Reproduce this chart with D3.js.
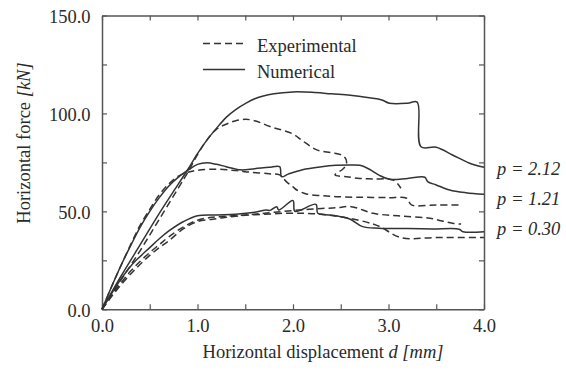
<!DOCTYPE html>
<html>
<head>
<meta charset="utf-8">
<script src="https://cdn.jsdelivr.net/npm/d3@7"></script>
<style>
  body { margin: 0; background: #fff; }
  svg { display: block; font-family: "Liberation Serif", "Times New Roman", serif; }
</style>
</head>
<body>
<svg id="chart" width="566" height="370"></svg>
<script>
// Load–displacement curves for three load ratios p (displacement d in mm, force in kN)
const num212_d = [0, 0.2, 0.4, 0.6, 0.8, 0.9, 1.0, 1.1, 1.2, 1.3, 1.4, 1.5, 1.6, 1.8, 2.0, 2.2, 2.4, 2.6, 2.8, 2.93, 3.01, 3.2, 3.3, 3.34, 3.5, 3.67, 3.85, 4.0];
const num212_f = [0, 17, 33, 49, 64, 71.5, 79.5, 86.5, 92.5, 98, 102, 105, 107.5, 110, 111, 110.8, 110, 109.3, 108, 106.9, 105.2, 105.2, 105.8, 83, 82.7, 78.8, 74.6, 72.5];

const exp212_d = [0, 0.2, 0.4, 0.6, 0.8, 0.9, 1.0, 1.1, 1.2, 1.3, 1.4, 1.5, 1.6, 1.76, 2.0, 2.1, 2.25, 2.4, 2.5, 2.55, 2.56, 2.52, 2.44, 2.56, 2.7, 2.84, 3.05, 3.13];
const exp212_f = [0, 15, 30, 46, 62, 70, 79, 86.5, 92, 94.5, 96.3, 97, 96.3, 93.3, 89.5, 86, 81.4, 80, 79, 77, 74, 71.5, 68.6, 67.7, 66.8, 66.5, 66, 61.8];

const num121_d = [0, 0.1, 0.2, 0.3, 0.4, 0.5, 0.6, 0.7, 0.8, 0.9, 1.0, 1.1, 1.2, 1.3, 1.45, 1.6, 1.75, 1.86, 1.88, 1.95, 2.1, 2.3, 2.45, 2.6, 2.7, 2.8, 2.9, 3.01, 3.2, 3.38, 3.41, 3.5, 3.64, 3.81, 4.0];
const num121_f = [0, 11.5, 22.5, 32.5, 42, 50, 57, 63, 67.5, 71, 74, 74.8, 74, 72.8, 71.2, 71.8, 72.5, 72.8, 67.7, 69, 71.3, 72.8, 73.5, 73.7, 73.5, 71.5, 68.5, 66.4, 66.8, 67.4, 65.2, 63.5, 60.9, 59.5, 58.7];

const exp121_d = [0, 0.1, 0.2, 0.3, 0.4, 0.5, 0.6, 0.7, 0.8, 0.9, 1.0, 1.2, 1.4, 1.55, 1.75, 1.86, 1.93, 2.0, 2.04, 2.14, 2.3, 2.45, 2.7, 3.0, 3.19, 3.24, 3.5, 3.75];
const exp121_f = [0, 11.5, 22.5, 33, 43, 51, 58.5, 64, 68, 70, 71, 71.5, 70.8, 70, 69.2, 68.6, 65.2, 62.5, 60.9, 58.9, 58, 57.5, 57.2, 57, 56.7, 53.3, 53.3, 53.3];

const num030_d = [0, 0.1, 0.2, 0.3, 0.4, 0.5, 0.6, 0.7, 0.85, 1.0, 1.2, 1.4, 1.6, 1.72, 1.76, 1.83, 1.85, 2.0, 2.02, 2.24, 2.26, 2.38, 2.5, 2.6, 2.73, 2.9, 3.2, 3.46, 3.74, 3.78, 4.0];
const num030_f = [0, 8, 15.5, 22, 27, 31.5, 36, 40, 44.7, 47.8, 48.2, 48.5, 49.5, 50.7, 50.5, 52.4, 50.7, 55.5, 50, 53.6, 49, 48.2, 47.3, 46, 42.2, 41.4, 41.2, 41, 40.9, 39.6, 39.6];

const exp030a_d = [0, 0.1, 0.2, 0.3, 0.4, 0.5, 0.6, 0.7, 0.85, 1.0, 1.16, 1.3, 1.5, 1.7, 1.9, 2.1, 2.3, 2.45, 2.61, 2.84, 3.1, 3.43, 3.67, 3.76];
const exp030a_f = [0, 7, 13.5, 19.5, 24.5, 29, 33, 37, 42, 45.5, 47, 47.5, 48.2, 49, 50, 50.8, 51.5, 51.8, 52.4, 49, 47.7, 46.5, 43.9, 43.5];

const exp030b_d = [0, 0.1, 0.2, 0.3, 0.4, 0.5, 0.6, 0.7, 0.85, 1.0, 1.16, 1.3, 1.5, 1.7, 1.9, 2.1, 2.3, 2.49, 2.77, 2.91, 3.13, 3.5, 4.0];
const exp030b_f = [0, 6.5, 12.5, 18, 23, 27.5, 31.5, 35, 41, 44.8, 46, 47, 48, 48.5, 49, 49, 48.5, 47.3, 44.5, 42.2, 36.6, 36.6, 36.6];

const xTicks = [0, 0.5, 1, 1.5, 2, 2.5, 3, 3.5, 4];
const yTicks = [0, 25, 50, 75, 100, 125, 150];
const curveLabels = ["p = 2.12", "p = 1.21", "p = 0.30"];
const legendNames = ["Experimental", "Numerical"];

const svg = d3.select("#chart");
const ink = "#333";
const plotLeft = 102, plotRight = 484, plotTop = 15.5, plotBottom = 309.3;

const x = d3.scaleLinear().domain([0, 4]).range([plotLeft, plotRight]);
const y = d3.scaleLinear().domain([0, 150]).range([plotBottom, plotTop]);

const fmt = d3.format(".1f");
const isMajorX = v => Math.abs(v - Math.round(v)) < 1e-9;
const isMajorY = v => v % 50 === 0;

function styleAxis(g) {
  g.selectAll("path.domain").attr("stroke", "#555").attr("stroke-width", 1.5);
  g.selectAll(".tick line").attr("stroke", "#555").attr("stroke-width", 1.2);
  g.selectAll("text").attr("fill", "#2a2a2a").style("font-size", "18.5px")
    .style("font-family", "'Liberation Serif', 'Times New Roman', serif");
}

svg.append("g").attr("transform", `translate(0,${plotBottom})`)
  .call(d3.axisBottom(x).tickValues(xTicks).tickSizeInner(-5).tickSizeOuter(0).tickPadding(10)
    .tickFormat(v => isMajorX(v) ? fmt(v) : ""))
  .call(styleAxis);
svg.append("g").attr("transform", `translate(0,${plotTop})`)
  .call(d3.axisTop(x).tickValues(xTicks).tickSizeInner(-5).tickSizeOuter(0).tickFormat(""))
  .call(styleAxis);
svg.append("g").attr("transform", `translate(${plotLeft},0)`)
  .call(d3.axisLeft(y).tickValues(yTicks).tickSizeInner(-5).tickSizeOuter(0).tickPadding(11.5)
    .tickFormat(v => isMajorY(v) ? fmt(v) : ""))
  .call(styleAxis)
  .call(g => g.selectAll("text").attr("dy", "0.38em"));
svg.append("g").attr("transform", `translate(${plotRight},0)`)
  .call(d3.axisRight(y).tickValues(yTicks).tickSizeInner(-5).tickSizeOuter(0).tickFormat(""))
  .call(styleAxis);

// Curves (centripetal Catmull–Rom keeps the sharp drops without overshoot)
const line = d3.line().x(p => x(p[0])).y(p => y(p[1])).curve(d3.curveCatmullRom.alpha(0.5));
const series = [
  { d: num212_d, f: num212_f, dashed: false },
  { d: exp212_d, f: exp212_f, dashed: true },
  { d: num121_d, f: num121_f, dashed: false },
  { d: exp121_d, f: exp121_f, dashed: true },
  { d: num030_d, f: num030_f, dashed: false },
  { d: exp030a_d, f: exp030a_f, dashed: true },
  { d: exp030b_d, f: exp030b_f, dashed: true }
];
svg.append("g").selectAll("path").data(series).join("path")
  .attr("d", s => line(d3.zip(s.d, s.f)))
  .attr("fill", "none")
  .attr("stroke", ink)
  .attr("stroke-width", 1.5)
  .attr("stroke-linejoin", "round")
  .attr("stroke-dasharray", s => s.dashed ? "7,4" : null);

// Legend
const legend = svg.append("g");
legendNames.forEach((name, i) => {
  const ly = 43.5 + i * 26;
  legend.append("line").attr("x1", 203).attr("x2", 245).attr("y1", ly).attr("y2", ly)
    .attr("stroke", ink).attr("stroke-width", 1.5)
    .attr("stroke-dasharray", i === 0 ? "7,4" : null);
  legend.append("text").attr("x", 257).attr("y", ly + 8)
    .attr("fill", "#2a2a2a").style("font-size", "18.5px").text(name);
});

// Load-ratio labels at the right edge
const labelBaseline = [175, 205, 235];
svg.append("g").selectAll("text").data(curveLabels).join("text")
  .attr("x", 497)
  .attr("y", (d, i) => labelBaseline[i])
  .attr("fill", "#2a2a2a")
  .style("font-size", "18.5px")
  .style("font-style", "italic")
  .text(d => d);

// Axis titles
const xt = svg.append("text").attr("x", 323).attr("y", 358).attr("text-anchor", "middle")
  .attr("fill", "#2a2a2a").style("font-size", "18.5px");
xt.append("tspan").text("Horizontal displacement ");
xt.append("tspan").style("font-style", "italic").text("d [mm]");

const yt = svg.append("text").attr("transform", "translate(30,143) rotate(-90)")
  .attr("text-anchor", "middle").attr("fill", "#2a2a2a").style("font-size", "18.5px");
yt.append("tspan").text("Horizontal force ");
yt.append("tspan").style("font-style", "italic").text("[kN]");
</script>
</body>
</html>
